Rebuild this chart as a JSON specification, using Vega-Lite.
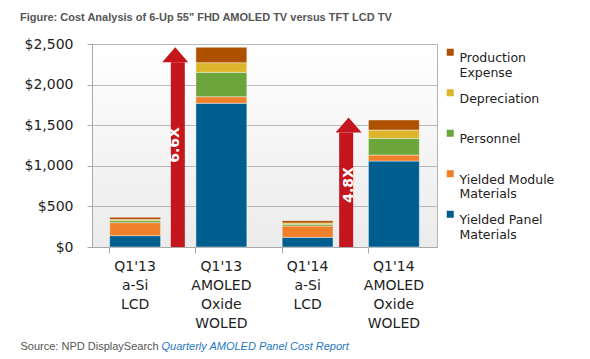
{
  "$schema": "https://vega.github.io/schema/vega-lite/v6.json",
  "width": 345,
  "height": 203,
  "autosize": {"type": "none"},
  "padding": {"left": 92, "top": 44, "right": 153, "bottom": 112},
  "background": "#ffffff",
  "title": {
    "text": "Figure: Cost Analysis of 6-Up 55\" FHD AMOLED TV versus TFT LCD TV",
    "anchor": "start",
    "frame": "group",
    "dx": -72,
    "font": "Liberation Sans",
    "fontSize": 11,
    "fontWeight": "bold",
    "color": "#555555",
    "offset": 14
  },
  "config": {
    "view": {
      "stroke": "#b4b4b4",
      "strokeWidth": 1,
      "fill": {"gradient": "linear", "x1": 0, "y1": 0, "x2": 0, "y2": 1, "stops": [{"offset": 0, "color": "#ffffff"}, {"offset": 1, "color": "#ebebeb"}]}
    }
  },
  "datasets": {
    "costs": [
      {"cat": "Q1'13|a-Si|LCD", "component": "Yielded Panel|Materials", "order": 1, "value": 140},
      {"cat": "Q1'13|a-Si|LCD", "component": "Yielded Module|Materials", "order": 2, "value": 160},
      {"cat": "Q1'13|a-Si|LCD", "component": "Personnel|", "order": 3, "value": 25},
      {"cat": "Q1'13|a-Si|LCD", "component": "Depreciation|", "order": 4, "value": 14},
      {"cat": "Q1'13|a-Si|LCD", "component": "Production|Expense", "order": 5, "value": 27},
      {"cat": "Q1'13|AMOLED|Oxide|WOLED", "component": "Yielded Panel|Materials", "order": 1, "value": 1770},
      {"cat": "Q1'13|AMOLED|Oxide|WOLED", "component": "Yielded Module|Materials", "order": 2, "value": 81},
      {"cat": "Q1'13|AMOLED|Oxide|WOLED", "component": "Personnel|", "order": 3, "value": 300},
      {"cat": "Q1'13|AMOLED|Oxide|WOLED", "component": "Depreciation|", "order": 4, "value": 119},
      {"cat": "Q1'13|AMOLED|Oxide|WOLED", "component": "Production|Expense", "order": 5, "value": 189},
      {"cat": "Q1'14|a-Si|LCD", "component": "Yielded Panel|Materials", "order": 1, "value": 119},
      {"cat": "Q1'14|a-Si|LCD", "component": "Yielded Module|Materials", "order": 2, "value": 140},
      {"cat": "Q1'14|a-Si|LCD", "component": "Personnel|", "order": 3, "value": 21},
      {"cat": "Q1'14|a-Si|LCD", "component": "Depreciation|", "order": 4, "value": 16},
      {"cat": "Q1'14|a-Si|LCD", "component": "Production|Expense", "order": 5, "value": 28},
      {"cat": "Q1'14|AMOLED|Oxide|WOLED", "component": "Yielded Panel|Materials", "order": 1, "value": 1059},
      {"cat": "Q1'14|AMOLED|Oxide|WOLED", "component": "Yielded Module|Materials", "order": 2, "value": 74},
      {"cat": "Q1'14|AMOLED|Oxide|WOLED", "component": "Personnel|", "order": 3, "value": 205},
      {"cat": "Q1'14|AMOLED|Oxide|WOLED", "component": "Depreciation|", "order": 4, "value": 103},
      {"cat": "Q1'14|AMOLED|Oxide|WOLED", "component": "Production|Expense", "order": 5, "value": 123}
    ],
    "arrows": [
      {"pos": 0.965, "base": 2275, "label": "6.6X", "labelAt": 1256},
      {"pos": 2.975, "base": 1410, "label": "4.8X", "labelAt": 764}
    ]
  },
  "layer": [
    {
      "data": {"name": "costs"},
      "mark": {"type": "bar", "stroke": "#ffffff", "strokeWidth": 0.7, "strokeOpacity": 0.6},
      "encoding": {
        "x": {
          "field": "cat",
          "type": "nominal",
          "sort": null,
          "scale": {"paddingInner": 0.41, "paddingOuter": 0.205},
          "axis": {
            "labelAngle": 0,
            "labelExpr": "split(datum.label, '|')",
            "labelFont": "DejaVu Sans",
            "labelFontSize": 14,
            "labelColor": "#222222",
            "labelLineHeight": 19,
            "labelBaseline": "top",
            "labelPadding": 6,
            "bandPosition": 0,
            "ticks": true,
            "tickSize": 6,
            "tickColor": "#a8a8a8",
            "domainColor": "#a8a8a8",
            "title": "Quarterly AMOLED Panel Cost Report",
            "titleX": 69,
            "titleY": 99,
            "titleAlign": "left",
            "titleBaseline": "middle",
            "titleFont": "Liberation Sans",
            "titleFontSize": 11,
            "titleFontWeight": "normal",
            "titleFontStyle": "italic",
            "titleColor": "#1f78c0"
          }
        },
        "y": {
          "field": "value",
          "type": "quantitative",
          "stack": "zero",
          "title": "Source: NPD DisplaySearch",
          "scale": {"domain": [0, 2500], "nice": false},
          "axis": {
            "values": [0, 500, 1000, 1500, 2000, 2500],
            "format": "$,.0f",
            "labelFont": "DejaVu Sans",
            "labelFontSize": 14,
            "labelColor": "#222222",
            "labelPadding": 14,
            "tickSize": 5,
            "tickColor": "#a8a8a8",
            "domainColor": "#a8a8a8",
            "gridColor": "#b8b8b8",
            "gridWidth": 1,
            "titleAngle": 0,
            "titleX": -72,
            "titleY": 302,
            "titleAlign": "left",
            "titleBaseline": "middle",
            "titleFont": "Liberation Sans",
            "titleFontSize": 11,
            "titleFontWeight": "normal",
            "titleColor": "#555555"
          }
        },
        "order": {"field": "order", "type": "quantitative"},
        "color": {
          "field": "component",
          "type": "nominal",
          "scale": {
            "domain": ["Production|Expense", "Depreciation|", "Personnel|", "Yielded Module|Materials", "Yielded Panel|Materials"],
            "range": ["#ad5000", "#dcb52b", "#6ca53b", "#f0802b", "#005e8f"]
          },
          "legend": {
            "orient": "right",
            "offset": 5,
            "padding": 2,
            "title": null,
            "symbolType": "square",
            "symbolSize": 49,
            "symbolStrokeWidth": 0,
            "labelExpr": "split(datum.label, '|')",
            "labelFont": "DejaVu Sans",
            "labelFontSize": 12.5,
            "labelColor": "#222222",
            "labelLineHeight": 15,
            "labelBaseline": "top",
            "labelOffset": 3,
            "rowPadding": 6.5
          }
        }
      }
    },
    {
      "data": {"name": "arrows"},
      "mark": {"type": "bar", "width": 14, "color": "#c4161c"},
      "encoding": {
        "x": {"field": "pos", "type": "quantitative", "scale": {"domain": [0, 4], "nice": false, "zero": false}, "axis": null},
        "y": {"field": "base", "type": "quantitative", "title": "Source: NPD DisplaySearch"}
      }
    },
    {
      "data": {"name": "arrows"},
      "mark": {"type": "point", "filled": true, "opacity": 1, "color": "#c4161c", "strokeWidth": 0, "shape": "M-1,0L1,0L0,-1.15Z", "size": 676},
      "encoding": {
        "x": {"field": "pos", "type": "quantitative", "scale": {"domain": [0, 4], "nice": false, "zero": false}, "axis": null},
        "y": {"field": "base", "type": "quantitative", "title": "Source: NPD DisplaySearch"}
      }
    },
    {
      "data": {"name": "arrows"},
      "mark": {"type": "text", "angle": 270, "color": "#ffffff", "font": "DejaVu Sans", "fontWeight": "bold", "fontSize": 14, "align": "center", "baseline": "middle"},
      "encoding": {
        "x": {"field": "pos", "type": "quantitative", "scale": {"domain": [0, 4], "nice": false, "zero": false}, "axis": null},
        "y": {"field": "labelAt", "type": "quantitative", "title": "Source: NPD DisplaySearch"},
        "text": {"field": "label"}
      }
    }
  ],
  "resolve": {"scale": {"x": "independent"}}
}
